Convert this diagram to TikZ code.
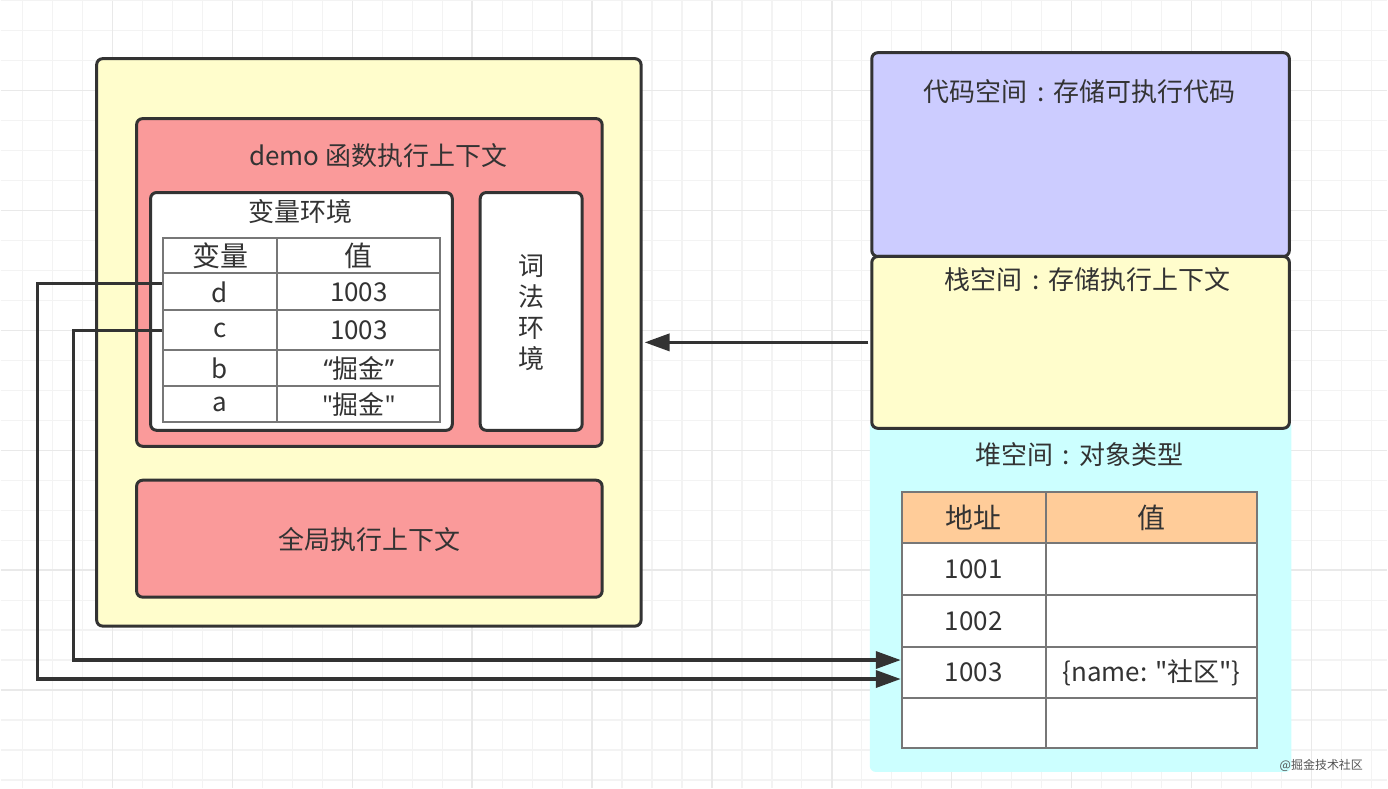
\documentclass[tikz,border=0pt]{standalone}
\usepackage{fontspec}
\setmainfont{Noto Sans CJK SC}
\newfontfamily\cjk{Noto Sans CJK SC}
\newfontfamily\lat{Noto Sans}
\usetikzlibrary{arrows.meta,calc}
\definecolor{ink}{HTML}{333333}
\definecolor{yel}{HTML}{FFFDCC}
\definecolor{redf}{HTML}{FA9A9A}
\definecolor{purp}{HTML}{CCCCFF}
\definecolor{cyanf}{HTML}{CCFFFF}
\definecolor{orangef}{HTML}{FFCC99}
\definecolor{cellline}{HTML}{777777}
\definecolor{gridminor}{HTML}{F3F3F3}
\definecolor{gridmajor}{HTML}{E9E9E9}
\newcommand{\tx}{\cjk\fontsize{26}{31}\selectfont\color{ink}}
\newcommand{\fc}{\makebox[1em][c]{:}}
\tikzset{
  box/.style={draw=ink, line width=3pt, rounded corners=6pt, inner sep=0pt},
  cell/.style={draw=cellline, line width=2pt, inner sep=0pt, font=\tx},
  lbl/.style={inner sep=0pt, font=\tx, align=center},
  conn/.style={draw=ink, line width=3.5pt},
  tip/.style={-{Triangle[length=25pt,width=17pt]}}
}
\begin{document}
\begin{tikzpicture}[x=1pt,y=-1pt]
% background and grid
\fill[white] (0,0) rectangle (1388,788);
\foreach \gx in {22,52,...,1388} {\draw[gridminor, line width=1.2pt] (\gx,0) -- (\gx,788);}
\foreach \gy in {0,30,...,788} {\draw[gridminor, line width=1.2pt] (0,\gy) -- (1388,\gy);}
\foreach \gx in {112,232,...,1388} {\draw[gridmajor, line width=1.5pt] (\gx,0) -- (\gx,788);}
\foreach \gy in {90,210,...,788} {\draw[gridmajor, line width=1.5pt] (0,\gy) -- (1388,\gy);}
\useasboundingbox (0,0) rectangle (1388,788);

% left side
\node[box, fill=yel, minimum width=545pt, minimum height=568pt] (outer) at (368.5,342) {};
\node[box, fill=redf, minimum width=466pt, minimum height=328pt] (demo) at (369,282) {};
\node[lbl] (demot) at (378,155) {demo 函数执行上下文};
\node[box, fill=white, minimum width=302pt, minimum height=238pt] (varenv) at (301,311) {};
\node[lbl] (varenvt) at (300,211) {变量环境};
\node[box, fill=white, minimum width=102pt, minimum height=238pt] (lexenv) at (531,311) {};
\node[lbl] (lexenvt) at (531,312) {词\\法\\环\\境};
\node[box, fill=redf, minimum width=466pt, minimum height=117pt] (global) at (369,538.5) {};
\node[lbl] (globalt) at (369,539) {全局执行上下文};

% variable table
\node[cell, minimum width=115pt, minimum height=35pt, font=\cjk\fontsize{28}{31}\selectfont\color{ink}] (hk) at (219.5,255.5) {变量};
\node[cell, minimum width=163pt, minimum height=35pt, font=\cjk\fontsize{28}{31}\selectfont\color{ink}] (hv) at (358.5,255.5) {值};
\node[cell, minimum width=115pt, minimum height=37pt] (dk) at (219.5,291.5) {d};
\node[cell, minimum width=163pt, minimum height=37pt] (dv) at (358.5,291.5) {1003};
\node[cell, minimum width=115pt, minimum height=40pt] (ck) at (219.5,330) {c};
\node[cell, minimum width=163pt, minimum height=40pt] (cv) at (358.5,330) {1003};
\node[cell, minimum width=115pt, minimum height=36pt] (bk) at (219.5,368) {b};
\node[cell, minimum width=163pt, minimum height=36pt] (bv) at (358.5,368) {{\lat “}掘金{\lat ”}};
\node[cell, minimum width=115pt, minimum height=36pt] (ak) at (219.5,404) {a};
\node[cell, minimum width=163pt, minimum height=36pt] (av) at (358.5,404) {{\lat "}掘金{\lat "}};

% right side
\node[fill=cyanf, rounded corners=6pt, inner sep=0pt, minimum width=422pt, minimum height=352pt] (heap) at (1081,596) {};
\node[box, fill=purp, minimum width=418pt, minimum height=204pt] (code) at (1081,154) {};
\node[lbl] (codet) at (1080,91) {代码空间\fc 存储可执行代码};
\node[box, fill=yel, minimum width=418pt, minimum height=172pt] (stack) at (1081,342) {};
\node[lbl] (stackt) at (1088,279) {栈空间\fc 存储执行上下文};
\node[lbl] (heapt) at (1080,454) {堆空间\fc 对象类型};

% heap table
\node[cell, fill=orangef, minimum width=144pt, minimum height=51pt, font=\cjk\fontsize{28}{31}\selectfont\color{ink}] (h0k) at (974,517.5) {地址};
\node[cell, fill=orangef, minimum width=212pt, minimum height=51pt, font=\cjk\fontsize{28}{31}\selectfont\color{ink}] (h0v) at (1152,517.5) {值};
\node[cell, fill=white, minimum width=144pt, minimum height=52pt] (h1k) at (974,569) {1001};
\node[cell, fill=white, minimum width=212pt, minimum height=52pt] (h1v) at (1152,569) {};
\node[cell, fill=white, minimum width=144pt, minimum height=52pt] (h2k) at (974,621) {1002};
\node[cell, fill=white, minimum width=212pt, minimum height=52pt] (h2v) at (1152,621) {};
\node[cell, fill=white, minimum width=144pt, minimum height=51pt] (h3k) at (974,672.5) {1003};
\node[cell, fill=white, minimum width=212pt, minimum height=51pt] (h3v) at (1152,672.5) {\{name: "社区"\}};
\node[cell, fill=white, minimum width=144pt, minimum height=50pt] (h4k) at (974,723) {};
\node[cell, fill=white, minimum width=212pt, minimum height=50pt] (h4v) at (1152,723) {};

% connectors
\draw[conn, tip, shorten >=2pt, shorten <=2pt] (stack.west) -- (outer.east);
\draw[conn, tip] ($(dk.west)+(0,-8.5)$) -- ++(-124,0) |- ($(h3k.west)+(0,6.5)$);
\draw[conn, tip] (ck.west) -- ++(-88,0) |- ($(h3k.west)+(0,-12.5)$);

% watermark
\node[inner sep=0pt, font=\cjk\fontsize{12}{14}\selectfont, text=ink!85] (wm) at (1322,766) {@掘金技术社区};
\end{tikzpicture}
\end{document}
